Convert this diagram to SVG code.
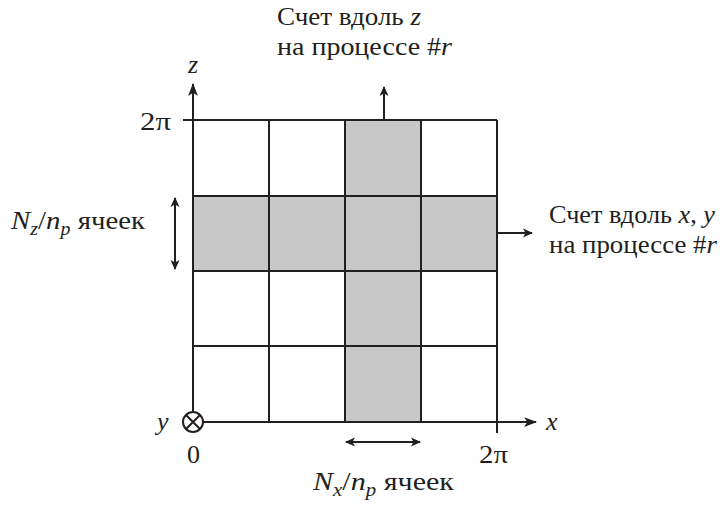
<svg xmlns="http://www.w3.org/2000/svg" width="724" height="506" viewBox="0 0 724 506">
<style>
.t{font-family:'Liberation Serif','DejaVu Serif','Times New Roman',serif;font-size:26px;fill:#231f20}
.i{font-style:italic}
.s{font-size:18px}
.ln{stroke:#231f20;stroke-width:2;fill:none}
.gray{fill:#c8c8c9}
</style>
<defs>
<marker id="ah" viewBox="0 0 10 10" refX="9" refY="5" markerWidth="10" markerHeight="10" markerUnits="userSpaceOnUse" orient="auto-start-reverse">
<path d="M0,0.5 L10,5 L0,9.5 L2.5,5 Z" fill="#231f20"/>
</marker>
<marker id="ahb" viewBox="0 0 12 10" refX="11" refY="5" markerWidth="13" markerHeight="11" markerUnits="userSpaceOnUse" orient="auto-start-reverse">
<path d="M0,0.5 L12,5 L0,9.5 L3,5 Z" fill="#231f20"/>
</marker>
</defs>
<g id="grid">
<rect class="gray" x="345" y="120" width="76" height="302"/>
<rect class="gray" x="193" y="196" width="304" height="75"/>
<path class="ln" d="M183,120 H497 M193,196 H497 M193,271 H497 M193,346 H497 M269,120 V422 M345,120 V422 M421,120 V422 M497,120 V433"/>
</g>
<g id="connectors">
<line class="ln" x1="193" y1="412" x2="193" y2="84" marker-end="url(#ahb)"/>
<line class="ln" x1="203" y1="422" x2="536" y2="422" marker-end="url(#ahb)"/>
<line class="ln" x1="384" y1="120" x2="384" y2="87" marker-end="url(#ah)"/>
<line class="ln" x1="497" y1="233" x2="532" y2="233" marker-end="url(#ah)"/>
<line class="ln" x1="175" y1="198" x2="175" y2="269" marker-start="url(#ah)" marker-end="url(#ah)"/>
<line class="ln" x1="346" y1="442" x2="420" y2="442" marker-start="url(#ah)" marker-end="url(#ah)"/>
</g>
<g id="origin">
<circle cx="193" cy="422" r="10" fill="#fff" stroke="#231f20" stroke-width="2"/>
<path class="ln" d="M186,415 L200,429 M200,415 L186,429"/>
</g>
<g id="labels">
<text class="t i" x="188" y="73">z</text>
<text class="t" x="140" y="130" textLength="31" lengthAdjust="spacingAndGlyphs">2π</text>
<text class="t i" x="546" y="430">x</text>
<text class="t" x="479" y="463" textLength="29" lengthAdjust="spacingAndGlyphs">2π</text>
<text class="t i" x="157" y="430">y</text>
<text class="t" x="187" y="463">0</text>
<text class="t" x="277" y="25" textLength="144" lengthAdjust="spacingAndGlyphs">Счет вдоль <tspan class="i">z</tspan></text>
<text class="t" x="277" y="55" textLength="175" lengthAdjust="spacingAndGlyphs">на процессе #<tspan class="i">r</tspan></text>
<text class="t" x="549" y="223" textLength="166" lengthAdjust="spacingAndGlyphs">Счет вдоль <tspan class="i">x</tspan>, <tspan class="i">y</tspan></text>
<text class="t" x="549" y="253" textLength="168" lengthAdjust="spacingAndGlyphs">на процессе #<tspan class="i">r</tspan></text>
<text class="t" x="11" y="229" textLength="134" lengthAdjust="spacingAndGlyphs"><tspan class="i">N</tspan><tspan class="i s" dy="6">z</tspan><tspan dy="-6">/</tspan><tspan class="i">n</tspan><tspan class="i s" dy="6">p</tspan><tspan dy="-6"> ячеек</tspan></text>
<text class="t" x="313" y="490" textLength="141" lengthAdjust="spacingAndGlyphs"><tspan class="i">N</tspan><tspan class="i s" dy="6">x</tspan><tspan dy="-6">/</tspan><tspan class="i">n</tspan><tspan class="i s" dy="6">p</tspan><tspan dy="-6"> ячеек</tspan></text>
</g>
</svg>
